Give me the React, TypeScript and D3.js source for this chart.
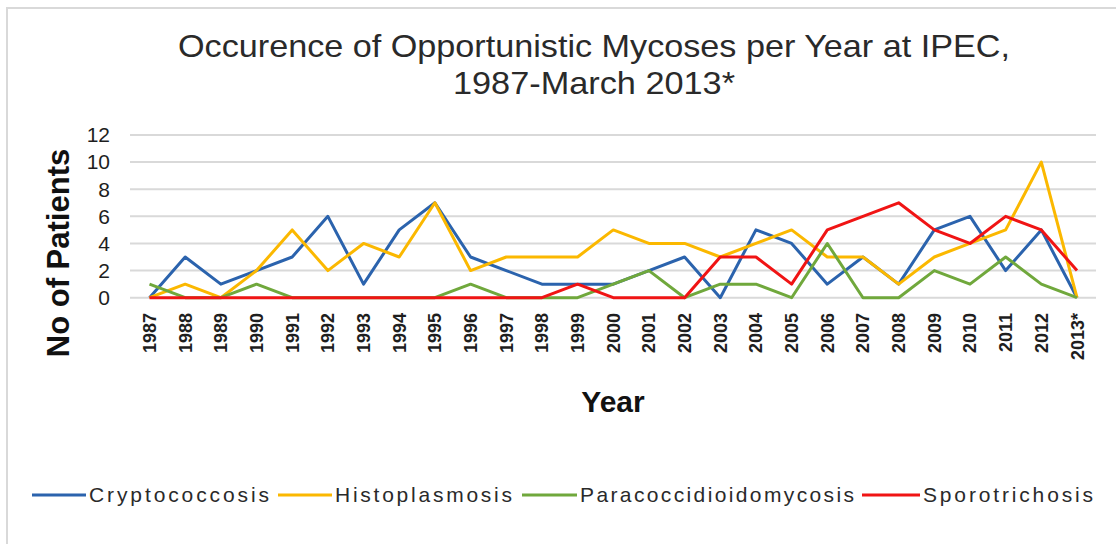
import React from 'react'
import * as d3 from 'd3'

const years = ['1987', '1988', '1989', '1990', '1991', '1992', '1993', '1994', '1995', '1996', '1997', '1998', '1999', '2000', '2001', '2002', '2003', '2004', '2005', '2006', '2007', '2008', '2009', '2010', '2011', '2012', '2013*']

const cryptococcosis = [0, 3, 1, 2, 3, 6, 1, 5, 7, 3, 2, 1, 1, 1, 2, 3, 0, 5, 4, 1, 3, 1, 5, 6, 2, 5, 0]
const histoplasmosis = [0, 1, 0, 2, 5, 2, 4, 3, 7, 2, 3, 3, 3, 5, 4, 4, 3, 4, 5, 3, 3, 1, 3, 4, 5, 10, 0]
const paracoccidioidomycosis = [1, 0, 0, 1, 0, 0, 0, 0, 0, 1, 0, 0, 0, 1, 2, 0, 1, 1, 0, 4, 0, 0, 2, 1, 3, 1, 0]
const sporotrichosis = [0, 0, 0, 0, 0, 0, 0, 0, 0, 0, 0, 0, 1, 0, 0, 0, 3, 3, 1, 5, 6, 7, 5, 4, 6, 5, 2]

const yTicks = [0, 2, 4, 6, 8, 10, 12]

const series = [
  { name: 'Cryptococcosis', values: cryptococcosis, color: '#2b63ad' },
  { name: 'Histoplasmosis', values: histoplasmosis, color: '#fbb800' },
  { name: 'Paracoccidioidomycosis', values: paracoccidioidomycosis, color: '#70a83c' },
  { name: 'Sporotrichosis', values: sporotrichosis, color: '#f01414' },
]

// legend layout: [lineStart, textStart, textWidth]
const legendPos = [
  [32, 89, 180],
  [278, 335, 177],
  [522, 580, 274],
  [862, 923, 170],
]

const font = '"Liberation Sans", Arial, sans-serif'

const App = () => {
  const width = 1116
  const height = 544

  const x = d3.scalePoint<string>().domain(years).range([149.5, 1077])
  const y = d3.scaleLinear().domain([0, 12]).range([297.7, 135])

  const line = d3.line<number>()
    .x((d, i) => x(years[i]) as number)
    .y(d => y(d))

  return (
    <svg width={width} height={height} style={{ position: 'absolute', left: 0, top: 0, background: '#fff' }} fontFamily={font}>
      <rect x={7} y={8} width={1300} height={700} fill="#fff" stroke="#d9d9d9" strokeWidth={2} />

      <text x={594} y={57} textAnchor="middle" fontSize={32} fill="#2a2a2a" textLength={832} lengthAdjust="spacingAndGlyphs">
        Occurence of Opportunistic Mycoses per Year at IPEC,
      </text>
      <text x={594} y={94} textAnchor="middle" fontSize={32} fill="#2a2a2a" textLength={282} lengthAdjust="spacingAndGlyphs">
        1987-March 2013*
      </text>

      {yTicks.map(t => (
        <g key={t}>
          <line x1={130} x2={1096} y1={y(t)} y2={y(t)} stroke="#d9d9d9" strokeWidth={2} />
          <text x={110} y={y(t)} dy="0.35em" textAnchor="end" fontSize={21} fill="#1e1e1e">{t}</text>
        </g>
      ))}

      {years.map(yr => (
        <text key={yr} transform={`translate(${(x(yr) as number) + 6.5},313) rotate(-90)`} textAnchor="end" fontSize={18} fontWeight={600} fill="#1e1e1e">
          {yr}
        </text>
      ))}

      <text transform="translate(69,253) rotate(-90)" textAnchor="middle" fontSize={31} fontWeight="bold" fill="#111">No of Patients</text>
      <text x={613} y={412} textAnchor="middle" fontSize={30} fontWeight="bold" fill="#111">Year</text>

      {series.map(s => (
        <path key={s.name} d={line(s.values) || ''} fill="none" stroke={s.color} strokeWidth={3} strokeLinejoin="round" />
      ))}

      {series.map((s, i) => {
        const [lx, tx, tw] = legendPos[i]
        return (
          <g key={s.name}>
            <line x1={lx} x2={tx - 3} y1={495} y2={495} stroke={s.color} strokeWidth={3} />
            <text x={tx} y={495} dy="0.35em" fontSize={21} fill="#2a2a2a" textLength={tw} lengthAdjust="spacing">{s.name}</text>
          </g>
        )
      })}
    </svg>
  )
}

export default App
